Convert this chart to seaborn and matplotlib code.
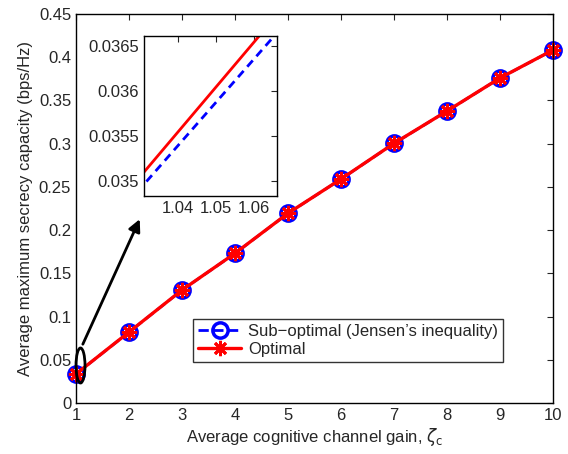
import matplotlib
matplotlib.use('Agg')
import matplotlib.pyplot as plt
import seaborn as sns
import pandas as pd
from matplotlib.patches import Ellipse

# данные
gain = [1, 2, 3, 4, 5, 6, 7, 8, 9, 10]
optimal = [0.0336, 0.0821, 0.1307, 0.1732, 0.2195, 0.2591, 0.3004, 0.3378, 0.3760, 0.4084]
suboptimal = [0.0335, 0.0820, 0.1306, 0.1731, 0.2194, 0.2590, 0.3003, 0.3377, 0.3759, 0.4083]

# увеличенный участок около gain = 1
gain_zoom = [1.0, 1.1]
optimal_zoom = [0.03356, 0.03853]
suboptimal_zoom = [0.03348, 0.03827]

sns.set_style('white')
plt.rcParams['font.family'] = ['Liberation Sans', 'DejaVu Sans']
plt.rcParams['mathtext.fontset'] = 'dejavusans'

df = pd.DataFrame({'gain': gain, 'opt': optimal, 'sub': suboptimal})
dz = pd.DataFrame({'gain': gain_zoom, 'opt': optimal_zoom, 'sub': suboptimal_zoom})

fig = plt.figure(figsize=(5.68, 4.54), dpi=100)
ax = fig.add_axes([0.1338, 0.1123, 0.8398, 0.8568])

sns.lineplot(data=df, x='gain', y='sub', ax=ax, color='blue', linestyle='--', lw=2,
             marker='o', markersize=11, markerfacecolor='none', markeredgecolor='blue',
             markeredgewidth=2.5, clip_on=False, label="Sub\u2212optimal (Jensen\u2019s inequality)")
sns.lineplot(data=df, x='gain', y='opt', ax=ax, color='red', lw=2.4,
             marker=(8, 2, 0), markersize=11, markeredgecolor='red',
             markeredgewidth=2, clip_on=False, label='Optimal')

ax.set_xlim(1, 10)
ax.set_ylim(0, 0.45)
ax.set_xticks(range(1, 11))
ax.set_yticks([0, 0.05, 0.1, 0.15, 0.2, 0.25, 0.3, 0.35, 0.4, 0.45])
ax.set_yticklabels(['0', '0.05', '0.1', '0.15', '0.2', '0.25', '0.3', '0.35', '0.4', '0.45'])
ax.tick_params(direction='in', top=True, right=True, labelsize=12, length=4)
ax.set_xlabel(r'Average cognitive channel gain, $\zeta_\mathrm{c}$', fontsize=12, labelpad=2)
ax.set_ylabel('Average maximum secrecy capacity (bps/Hz)', fontsize=12, labelpad=4)
for s in ax.spines.values():
    s.set_color('black')
    s.set_linewidth(1)

leg = ax.legend(loc='lower left', bbox_to_anchor=(0.245, 0.105), fontsize=12,
                frameon=True, fancybox=False, edgecolor='black', handlelength=2.6,
                borderpad=0.3, labelspacing=0.2, handletextpad=0.4, borderaxespad=0)
leg.get_frame().set_linewidth(1)

# эллипс и стрелка
ax.add_patch(Ellipse((1.085, 0.0434), 0.17, 0.0405, fill=False, edgecolor='black',
                     lw=2, zorder=5, clip_on=False))
ax.annotate('', xy=(2.224, 0.2156), xytext=(1.107, 0.0651),
            arrowprops=dict(arrowstyle='-|>', color='black', lw=2, mutation_scale=18))

# вставка
axin = fig.add_axes([0.2535, 0.5683, 0.234, 0.352])
sns.lineplot(data=dz, x='gain', y='sub', ax=axin, color='blue', linestyle=(0, (3, 2)), lw=2)
sns.lineplot(data=dz, x='gain', y='opt', ax=axin, color='red', lw=2)
axin.set_xlim(1.0309, 1.0661)
axin.set_ylim(0.03483, 0.03661)
axin.set_xticks([1.04, 1.05, 1.06])
axin.set_xticklabels(['1.04', '1.05', '1.06'])
axin.set_yticks([0.035, 0.0355, 0.036, 0.0365])
axin.set_yticklabels(['0.035', '0.0355', '0.036', '0.0365'])
axin.tick_params(direction='in', top=True, right=True, labelsize=12, length=4)
axin.set_xlabel('')
axin.set_ylabel('')
for s in axin.spines.values():
    s.set_color('black')
    s.set_linewidth(1)

plt.savefig('out.png', dpi=100)
